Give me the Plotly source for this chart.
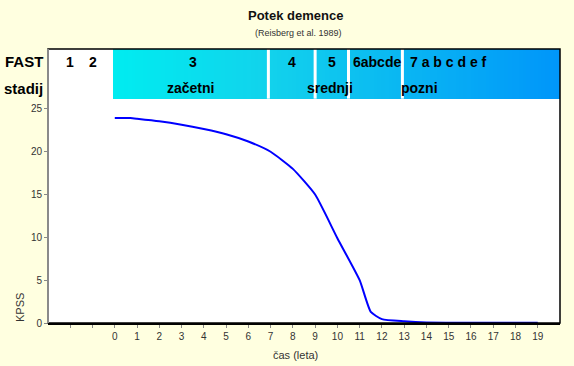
import numpy as np
import plotly.graph_objects as go

# ---- data ----
years = [0, 0.7, 1, 2, 3, 4, 5, 6, 7, 8, 9, 10, 11, 11.5, 12, 13, 14, 15, 16, 17, 18, 19]
kpss = [23.95, 23.93, 23.85, 23.55, 23.15, 22.65, 22.05, 21.2, 20.0, 18.0, 15.0, 9.9, 5.0, 1.3, 0.45, 0.2, 0.06, 0.04, 0.03, 0.03, 0.03, 0.03]

x_ticks = list(range(-2, 20))
x_ticklabels = ["" if v < 0 else str(v) for v in x_ticks]
y_ticks = [0, 5, 10, 15, 20, 25]

stage_labels = ["1", "2", "3", "4", "5", "6abcde", "7 a b c d e f"]
stage_pos = [-2, -1, 3.53, 7.96, 9.74, 11.76, 14.97]
phase_labels = ["začetni", "srednji", "pozni"]
phase_pos = [3.38, 9.67, 13.69]
stage_gaps = [6.9, 9.0, 10.5, 12.92]

X0, X1 = -3, 20
Y_TOP = 32
HEADER_Y0 = 26.2
ROW1_Y, ROW2_Y = 30.5, 27.4

FONT = "Liberation Sans, Arial, sans-serif"

fig = go.Figure()

# header gradient band
edges = np.linspace(-0.08, 20, 121)
centers = (edges[:-1] + edges[1:]) / 2
fig.add_trace(go.Heatmap(
    x=edges, y=[HEADER_Y0, Y_TOP], z=[list(centers)],
    colorscale=[[0, "#00ECF0"], [0.35, "#12D2EC"], [1, "#0096FA"]],
    showscale=False, hoverinfo="skip", zsmooth=False,
))

# curve
fig.add_trace(go.Scatter(
    x=years, y=kpss, mode="lines",
    line=dict(color="#0000FF", width=2, shape="spline", smoothing=0.5),
    hoverinfo="skip", showlegend=False,
))

shapes = []
for g in stage_gaps:
    shapes.append(dict(type="line", xref="x", yref="y", x0=g, x1=g, y0=HEADER_Y0, y1=Y_TOP,
                       line=dict(color="white", width=3), layer="above"))
# frame
shapes.append(dict(type="rect", xref="paper", yref="paper", x0=0, x1=1, y0=0, y1=1,
                   line=dict(color="#000000", width=1.5), layer="above"))
shapes.append(dict(type="line", xref="paper", yref="paper", x0=0, x1=0, y0=0, y1=1,
                   line=dict(color="#8a8a8a", width=2), layer="above"))

annotations = []
bold = dict(family=FONT, size=14, color="black")
for lab, p in zip(stage_labels, stage_pos):
    annotations.append(dict(x=p, y=ROW1_Y, xref="x", yref="y", text=f"<b>{lab}</b>",
                            showarrow=False, font=bold, xanchor="center", yanchor="middle"))
for lab, p in zip(phase_labels, phase_pos):
    annotations.append(dict(x=p, y=ROW2_Y, xref="x", yref="y", text=f"<b>{lab}</b>",
                            showarrow=False, font=bold, xanchor="center", yanchor="middle"))
annotations.append(dict(x=-0.006, y=ROW1_Y, xref="paper", yref="y", text="<b>FAST</b>",
                        showarrow=False, font=dict(family=FONT, size=15, color="black"),
                        xanchor="right", yanchor="middle"))
annotations.append(dict(x=-0.006, y=ROW2_Y, xref="paper", yref="y", text="<b>stadij</b>",
                        showarrow=False, font=dict(family=FONT, size=15, color="black"),
                        xanchor="right", yanchor="middle"))
# titles
annotations.append(dict(x=295, y=15, xref="paper", yref="paper", text="<b>Potek demence</b>",
                        showarrow=False, font=dict(family=FONT, size=13, color="#111"),
                        xanchor="center", yanchor="middle"))
annotations.append(dict(x=298, y=33, xref="paper", yref="paper", text="(Reisberg et al. 1989)",
                        showarrow=False, font=dict(family=FONT, size=9, color="#333"),
                        xanchor="center", yanchor="middle"))
annotations.append(dict(x=295.7, y=355, xref="paper", yref="paper", text="čas (leta)",
                        showarrow=False, font=dict(family=FONT, size=11, color="#333"),
                        xanchor="center", yanchor="middle"))
annotations.append(dict(x=20, y=308, xref="paper", yref="paper", text="KPSS", textangle=-90,
                        showarrow=False, font=dict(family=FONT, size=11, color="#333"),
                        xanchor="center", yanchor="middle"))

# convert pixel-based paper annotations
L, R, T, B = 48, 14, 49, 43
W, H = 574, 366
pw, ph = W - L - R, H - T - B
for a in annotations[-4:]:
    a["x"] = (a["x"] - L) / pw
    a["y"] = 1 - (a["y"] - T) / ph
    a["yanchor"] = "middle"

fig.update_layout(
    width=W, height=H,
    margin=dict(l=L, r=R, t=T, b=B, pad=0),
    paper_bgcolor="#FFFFE0",
    plot_bgcolor="white",
    showlegend=False,
    shapes=shapes,
    annotations=annotations,
    xaxis=dict(range=[X0, X1], tickvals=x_ticks, ticktext=x_ticklabels,
               ticks="outside", ticklen=3, tickcolor="#888", showgrid=False, zeroline=False,
               showline=True, linecolor="black", linewidth=1.5,
               tickfont=dict(family=FONT, size=10, color="#333")),
    yaxis=dict(range=[0, Y_TOP], tickvals=y_ticks, ticks="outside", ticklen=3, tickcolor="#888",
               showgrid=False, zeroline=False, showline=False,
               tickfont=dict(family=FONT, size=10, color="#333")),
)

fig.write_html("out.html", config={"displayModeBar": False},
               post_script="document.body.style.margin='0';document.body.style.background='#FFFFE0';")
